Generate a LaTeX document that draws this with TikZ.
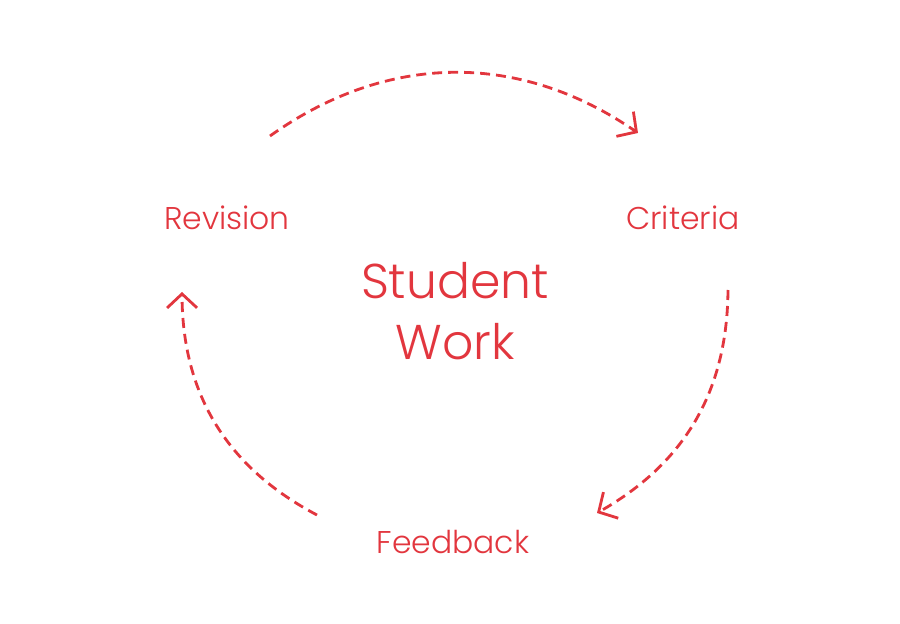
\documentclass[tikz,border=0pt]{standalone}
\usepackage{fontspec}
\setmainfont{Poppins}[UprightFont=* Light]
\usepackage{tikz}
\usetikzlibrary{arrows.meta,positioning}
\definecolor{cycred}{RGB}{226,54,62}

\begin{document}
\begin{tikzpicture}[x=0.02cm, y=0.02cm, label/.style={text=cycred, font=\fontsize{17.9}{22}\selectfont, anchor=base, inner sep=0pt}, cycle/.style={draw=cycred, line width=1.6pt, dash pattern=on 0.2cm off 0.12cm, -{Straight Barb[length=0.28cm, width=0.6cm]}}]
  \useasboundingbox (0,0) rectangle (900,623);
  \node[label] (revision) at (227,393) {Revision};
  \node[label] (criteria) at (683,393) {Criteria};
  \node[label] (feedback) at (453,70) {Feedback};
  \node[text=cycred, font=\fontsize{27.8}{34.6}\selectfont, align=center, inner sep=0pt] (work) at (455,312) {Student\\Work};
  \coordinate (rev out) at (270,487);
  \coordinate (crit in) at (638,490);
  \coordinate (crit out) at (728,333);
  \coordinate (feed in) at (597,110);
  \coordinate (feed out) at (317,108);
  \coordinate (rev in) at (182,331);
  \draw[cycle] (rev out) to[bend left=35] (crit in);
  \draw[cycle] (crit out) to[bend left=30] (feed in);
  \draw[cycle] (feed out) to[bend left=31] (rev in);
\end{tikzpicture}
\end{document}
